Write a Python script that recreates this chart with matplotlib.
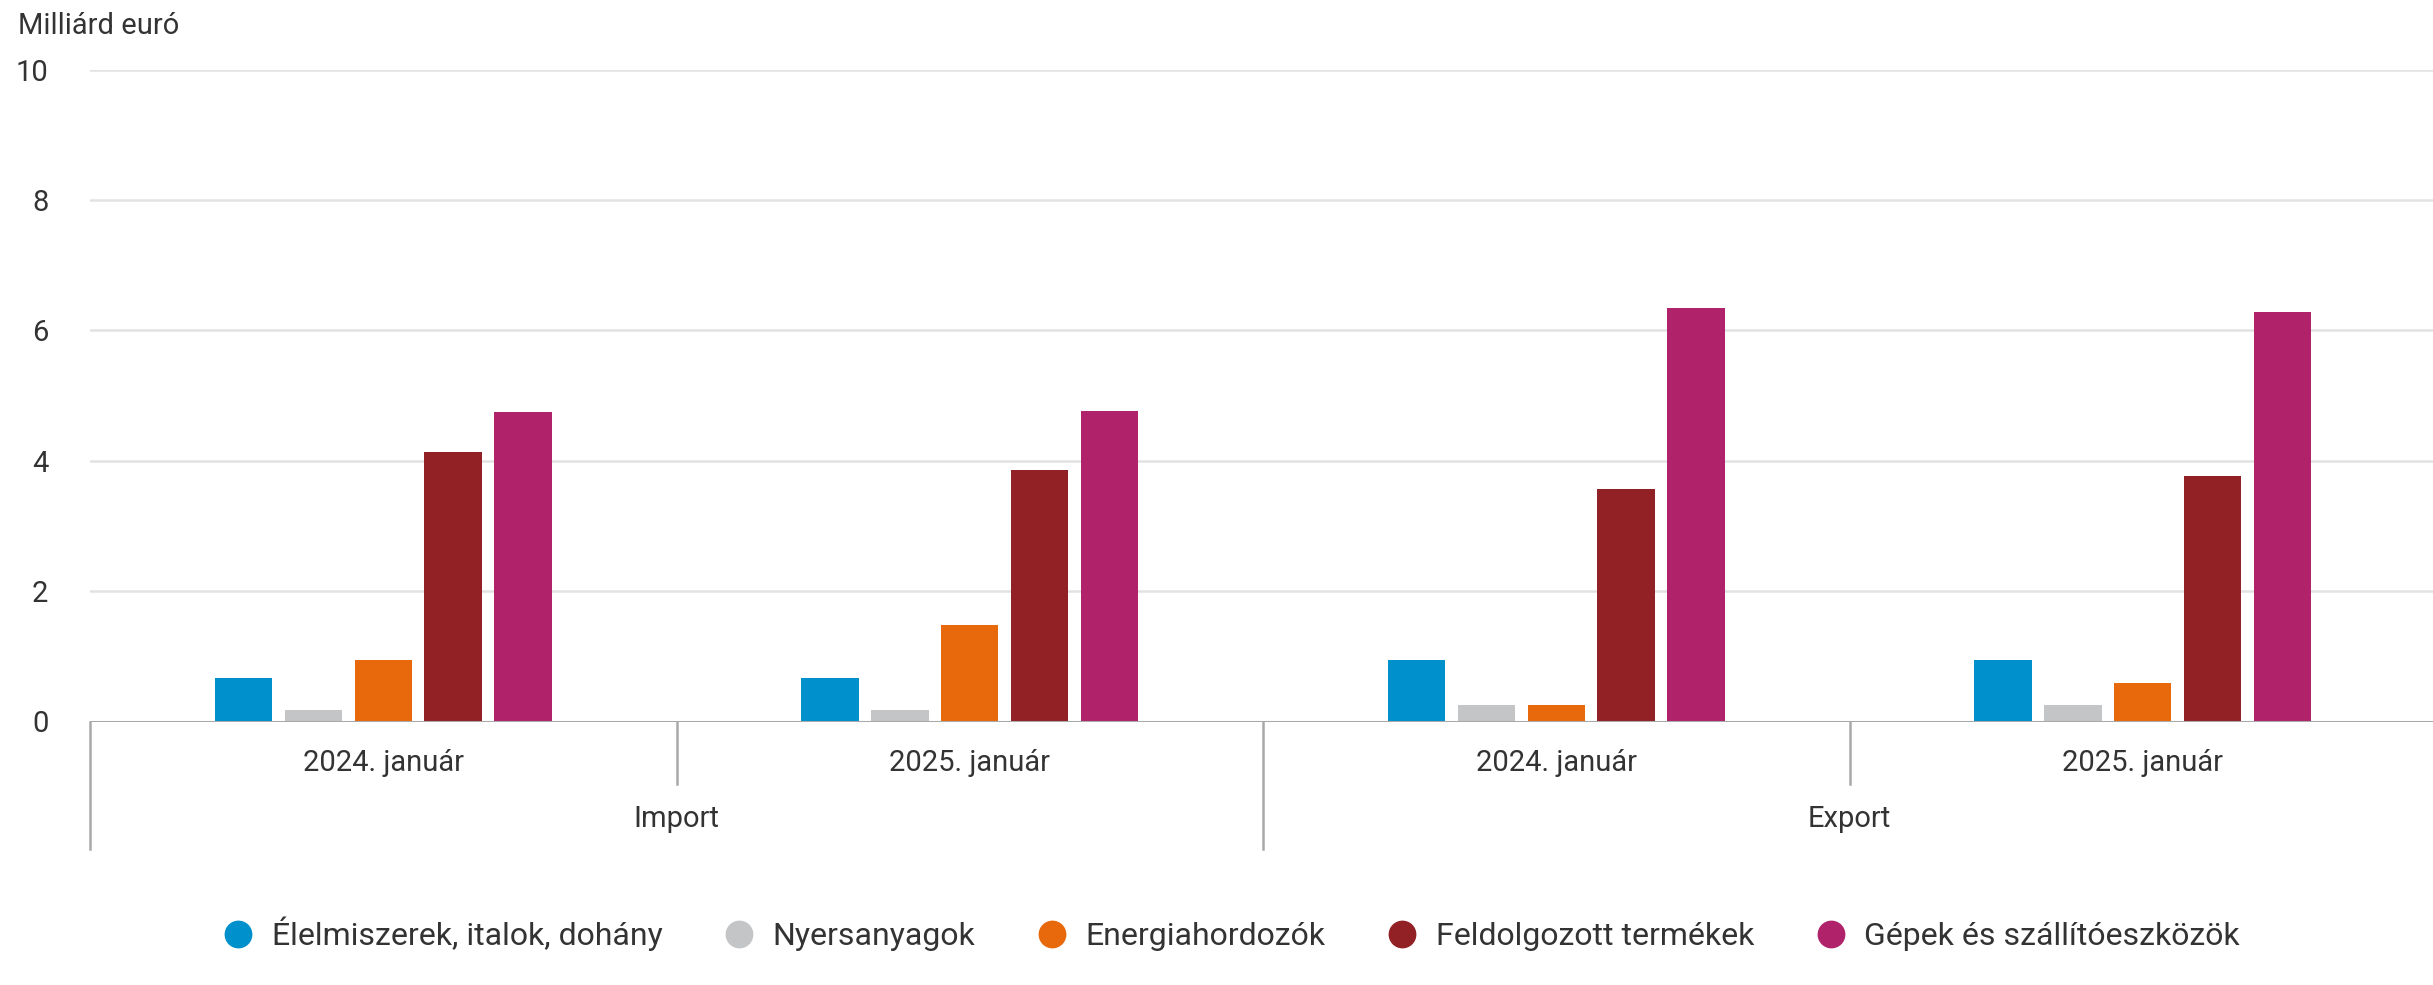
import matplotlib
matplotlib.use("Agg")
import matplotlib.pyplot as plt
from matplotlib.lines import Line2D
import numpy as np

plt.rcParams['font.family'] = ['Roboto', 'DejaVu Sans']

groups = ["Import", "Export"]
periods = ["2024. január", "2025. január", "2024. január", "2025. január"]
series_names = ["Élelmiszerek, italok, dohány", "Nyersanyagok", "Energiahordozók",
                "Feldolgozott termékek", "Gépek és szállítóeszközök"]
elelmiszer = [0.66, 0.66, 0.95, 0.95]
nyersanyag = [0.17, 0.17, 0.25, 0.26]
energia = [0.94, 1.48, 0.25, 0.59]
feldolgozott = [4.13, 3.86, 3.57, 3.77]
gepek = [4.75, 4.76, 6.35, 6.28]
yticks = [0, 2, 4, 6, 8, 10]
colors = ["#0090cc", "#c4c5c7", "#e8690c", "#912124", "#b0236a"]

W, H = 2433, 985
fig = plt.figure(figsize=(W / 100, H / 100), dpi=100)
left_px, right_px, top_px, zero_px = 90, 2436, 69.8, 721.5
ax = fig.add_axes([left_px / W, 1 - zero_px / H, (right_px - left_px) / W, (zero_px - top_px) / H])

series = [elelmiszer, nyersanyag, energia, feldolgozott, gepek]
x = np.arange(len(periods))
pitch, width = 0.119, 0.098
for k, (vals, c, name) in enumerate(zip(series, colors, series_names)):
    ax.bar(x + (k - 2) * pitch, vals, width=width, color=c, label=name, zorder=3)

ax.set_xlim(-0.5, len(periods) - 0.5)
ax.set_ylim(0, 10)
ax.set_yticks(yticks)
ax.set_yticklabels([str(t) for t in yticks])
ax.tick_params(axis='y', length=0, pad=30, labelsize=21, labelcolor="#333333")
ax.set_xticks([])
for s in ax.spines.values():
    s.set_visible(False)
ax.grid(axis='y', color="#e2e2e2", lw=1.8, zorder=0)
ax.axhline(0, color="#a9a9a9", lw=2.2, zorder=4)

tr = ax.get_xaxis_transform()
ah = zero_px - top_px
def yf(px):
    return (zero_px - px) / ah

# separators
for xs in [-0.5, 1.5]:
    ax.plot([xs, xs], [0, yf(849)], transform=tr, color="#a9a9a9", lw=1.8, clip_on=False)
for xs in [0.5, 2.5]:
    ax.plot([xs, xs], [0, yf(784)], transform=tr, color="#a9a9a9", lw=1.8, clip_on=False)

for i, p in enumerate(periods):
    ax.text(i, yf(763), p, transform=tr, ha='center', va='center', fontsize=21, color="#333333")
for j, g in enumerate(groups):
    ax.text(2 * j + 0.5, yf(819), g, transform=tr, ha='center', va='center', fontsize=21, color="#333333")

fig.text(18 / W, 1 - 26 / H, "Milliárd euró", ha='left', va='center', fontsize=21, color="#333333")

handles = [Line2D([], [], marker='o', ls='none', markersize=19, markerfacecolor=c, markeredgecolor=c)
           for c in colors]
fig.legend(handles, series_names, loc='center', bbox_to_anchor=(0.506, 1 - 934 / H), ncol=5,
           frameon=False, fontsize=23, handlelength=1.0, handletextpad=0.55, columnspacing=1.9,
           labelcolor="#333333")

fig.savefig("out.png", dpi=100, facecolor="white")
